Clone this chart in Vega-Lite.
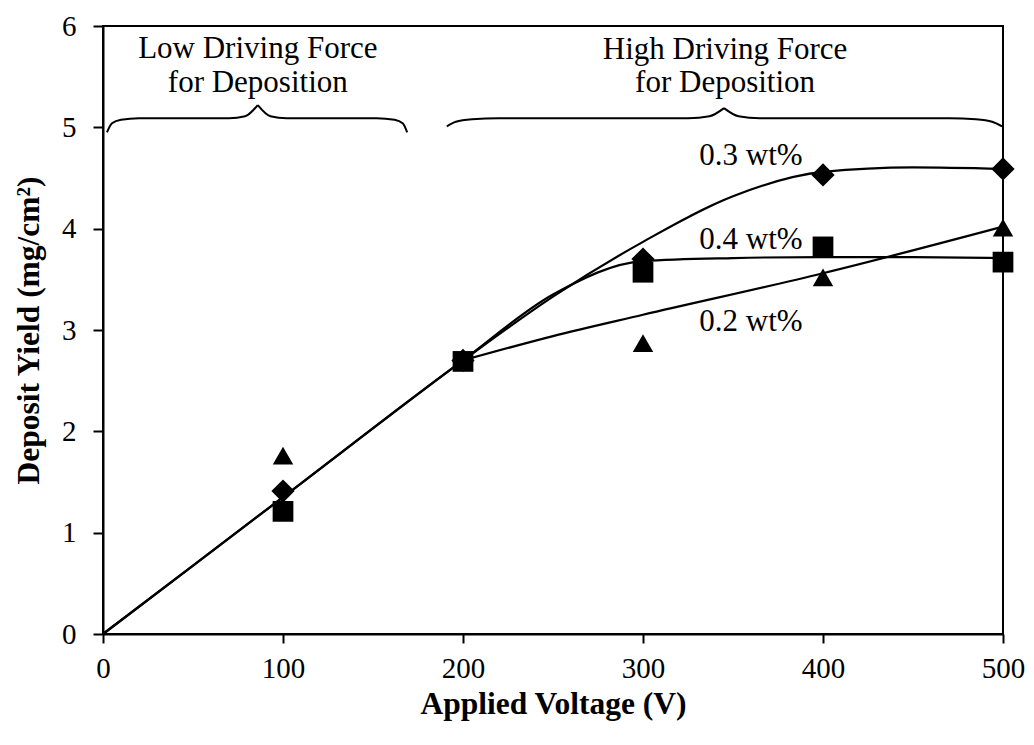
{
  "$schema": "https://vega.github.io/schema/vega-lite/v6.json",
  "width": 900,
  "height": 608,
  "autosize": "none",
  "padding": {"left": 103, "top": 26, "right": 31, "bottom": 111},
  "background": "white",
  "config": {
    "view": {"stroke": "black", "strokeWidth": 2},
    "font": "Liberation Serif",
    "axis": {
      "grid": false,
      "domainColor": "black",
      "domainWidth": 2,
      "tickColor": "black",
      "tickWidth": 2,
      "labelFont": "Liberation Serif",
      "labelFontSize": 29,
      "labelColor": "black",
      "titleFont": "Liberation Serif",
      "titleFontSize": 31.5,
      "titleFontWeight": "bold",
      "titleColor": "black"
    }
  },
  "datasets": {
    "points": [
      {"voltage": 100, "yield": 1.41, "series": "0.3 wt%"},
      {"voltage": 200, "yield": 2.70, "series": "0.3 wt%"},
      {"voltage": 300, "yield": 3.70, "series": "0.3 wt%"},
      {"voltage": 400, "yield": 4.53, "series": "0.3 wt%"},
      {"voltage": 500, "yield": 4.59, "series": "0.3 wt%"},
      {"voltage": 100, "yield": 1.21, "series": "0.4 wt%"},
      {"voltage": 200, "yield": 2.69, "series": "0.4 wt%"},
      {"voltage": 300, "yield": 3.57, "series": "0.4 wt%"},
      {"voltage": 400, "yield": 3.82, "series": "0.4 wt%"},
      {"voltage": 500, "yield": 3.67, "series": "0.4 wt%"},
      {"voltage": 100, "yield": 1.76, "series": "0.2 wt%"},
      {"voltage": 200, "yield": 2.70, "series": "0.2 wt%"},
      {"voltage": 300, "yield": 2.87, "series": "0.2 wt%"},
      {"voltage": 400, "yield": 3.52, "series": "0.2 wt%"},
      {"voltage": 500, "yield": 4.01, "series": "0.2 wt%"}
    ],
    "curves": [
      {"voltage": 0, "yield": 0, "series": "0.3 wt%"},
      {"voltage": 100, "yield": 1.35, "series": "0.3 wt%"},
      {"voltage": 200, "yield": 2.70, "series": "0.3 wt%"},
      {"voltage": 250, "yield": 3.33, "series": "0.3 wt%"},
      {"voltage": 300, "yield": 3.87, "series": "0.3 wt%"},
      {"voltage": 350, "yield": 4.32, "series": "0.3 wt%"},
      {"voltage": 400, "yield": 4.56, "series": "0.3 wt%"},
      {"voltage": 450, "yield": 4.605, "series": "0.3 wt%"},
      {"voltage": 500, "yield": 4.59, "series": "0.3 wt%"},
      {"voltage": 0, "yield": 0, "series": "0.4 wt%"},
      {"voltage": 100, "yield": 1.35, "series": "0.4 wt%"},
      {"voltage": 200, "yield": 2.70, "series": "0.4 wt%"},
      {"voltage": 250, "yield": 3.35, "series": "0.4 wt%"},
      {"voltage": 300, "yield": 3.68, "series": "0.4 wt%"},
      {"voltage": 350, "yield": 3.71, "series": "0.4 wt%"},
      {"voltage": 400, "yield": 3.72, "series": "0.4 wt%"},
      {"voltage": 450, "yield": 3.72, "series": "0.4 wt%"},
      {"voltage": 500, "yield": 3.71, "series": "0.4 wt%"},
      {"voltage": 200, "yield": 2.70, "series": "0.2 wt%"},
      {"voltage": 250, "yield": 2.94, "series": "0.2 wt%"},
      {"voltage": 300, "yield": 3.15, "series": "0.2 wt%"},
      {"voltage": 400, "yield": 3.56, "series": "0.2 wt%"},
      {"voltage": 500, "yield": 4.02, "series": "0.2 wt%"}
    ],
    "braces": [
      {"voltage": 2.2, "yield": 4.95, "seg": "a"},
      {"voltage": 5, "yield": 5.04, "seg": "a"},
      {"voltage": 10, "yield": 5.075, "seg": "a"},
      {"voltage": 20, "yield": 5.09, "seg": "a"},
      {"voltage": 70, "yield": 5.09, "seg": "a"},
      {"voltage": 79, "yield": 5.11, "seg": "a"},
      {"voltage": 86, "yield": 5.22, "seg": "a"},
      {"voltage": 86, "yield": 5.22, "seg": "b"},
      {"voltage": 93, "yield": 5.11, "seg": "b"},
      {"voltage": 102, "yield": 5.09, "seg": "b"},
      {"voltage": 152, "yield": 5.09, "seg": "b"},
      {"voltage": 162, "yield": 5.075, "seg": "b"},
      {"voltage": 166.5, "yield": 5.04, "seg": "b"},
      {"voltage": 169, "yield": 4.95, "seg": "b"},
      {"voltage": 191, "yield": 5.01, "seg": "c"},
      {"voltage": 196, "yield": 5.055, "seg": "c"},
      {"voltage": 205, "yield": 5.08, "seg": "c"},
      {"voltage": 220, "yield": 5.09, "seg": "c"},
      {"voltage": 325, "yield": 5.09, "seg": "c"},
      {"voltage": 337, "yield": 5.11, "seg": "c"},
      {"voltage": 345, "yield": 5.19, "seg": "c"},
      {"voltage": 345, "yield": 5.19, "seg": "d"},
      {"voltage": 353, "yield": 5.11, "seg": "d"},
      {"voltage": 365, "yield": 5.09, "seg": "d"},
      {"voltage": 470, "yield": 5.09, "seg": "d"},
      {"voltage": 485, "yield": 5.08, "seg": "d"},
      {"voltage": 494, "yield": 5.055, "seg": "d"},
      {"voltage": 499.5, "yield": 5.01, "seg": "d"}
    ],
    "labels": [
      {"voltage": 86, "yield": 5.68, "text": "Low Driving Force"},
      {"voltage": 86, "yield": 5.35, "text": "for Deposition"},
      {"voltage": 345.6, "yield": 5.67, "text": "High Driving Force"},
      {"voltage": 345.6, "yield": 5.345, "text": "for Deposition"},
      {"voltage": 360, "yield": 4.63, "text": "0.3 wt%"},
      {"voltage": 360, "yield": 3.80, "text": "0.4 wt%"},
      {"voltage": 360, "yield": 2.99, "text": "0.2 wt%"}
    ]
  },
  "encoding": {
    "x": {
      "field": "voltage",
      "type": "quantitative",
      "scale": {"domain": [0, 500], "nice": false},
      "axis": {
        "title": "Applied Voltage (V)",
        "values": [0, 100, 200, 300, 400, 500],
        "tickSize": 9,
        "labelPadding": 11,
        "titlePadding": 5,
        "labelFlush": false
      }
    },
    "y": {
      "field": "yield",
      "type": "quantitative",
      "scale": {"domain": [0, 6], "nice": false},
      "axis": {
        "title": "Deposit Yield (mg/cm²)",
        "values": [0, 1, 2, 3, 4, 5, 6],
        "tickSize": 10,
        "labelPadding": 17,
        "titlePadding": 16,
        "labelFlush": false
      }
    }
  },
  "layer": [
    {
      "data": {"name": "curves"},
      "mark": {"type": "line", "color": "black", "strokeWidth": 2.2, "interpolate": "monotone"},
      "encoding": {"detail": {"field": "series"}}
    },
    {
      "data": {"name": "braces"},
      "mark": {"type": "line", "color": "black", "strokeWidth": 2, "interpolate": "monotone"},
      "encoding": {"detail": {"field": "seg"}}
    },
    {
      "data": {"name": "points"},
      "transform": [{"filter": "datum.series === '0.3 wt%'"}],
      "mark": {"type": "point", "shape": "diamond", "size": 540, "filled": true, "fill": "black", "strokeWidth": 0, "fillOpacity": 1}
    },
    {
      "data": {"name": "points"},
      "transform": [{"filter": "datum.series === '0.2 wt%'"}],
      "mark": {"type": "point", "shape": "triangle-up", "size": 420, "filled": true, "fill": "black", "strokeWidth": 0, "fillOpacity": 1}
    },
    {
      "data": {"name": "points"},
      "transform": [{"filter": "datum.series === '0.4 wt%'"}],
      "mark": {"type": "point", "shape": "square", "size": 430, "filled": true, "fill": "black", "strokeWidth": 0, "fillOpacity": 1}
    },
    {
      "data": {"name": "labels"},
      "mark": {"type": "text", "font": "Liberation Serif", "fontSize": 31, "color": "black", "align": "center", "baseline": "alphabetic"},
      "encoding": {"text": {"field": "text"}}
    }
  ]
}
